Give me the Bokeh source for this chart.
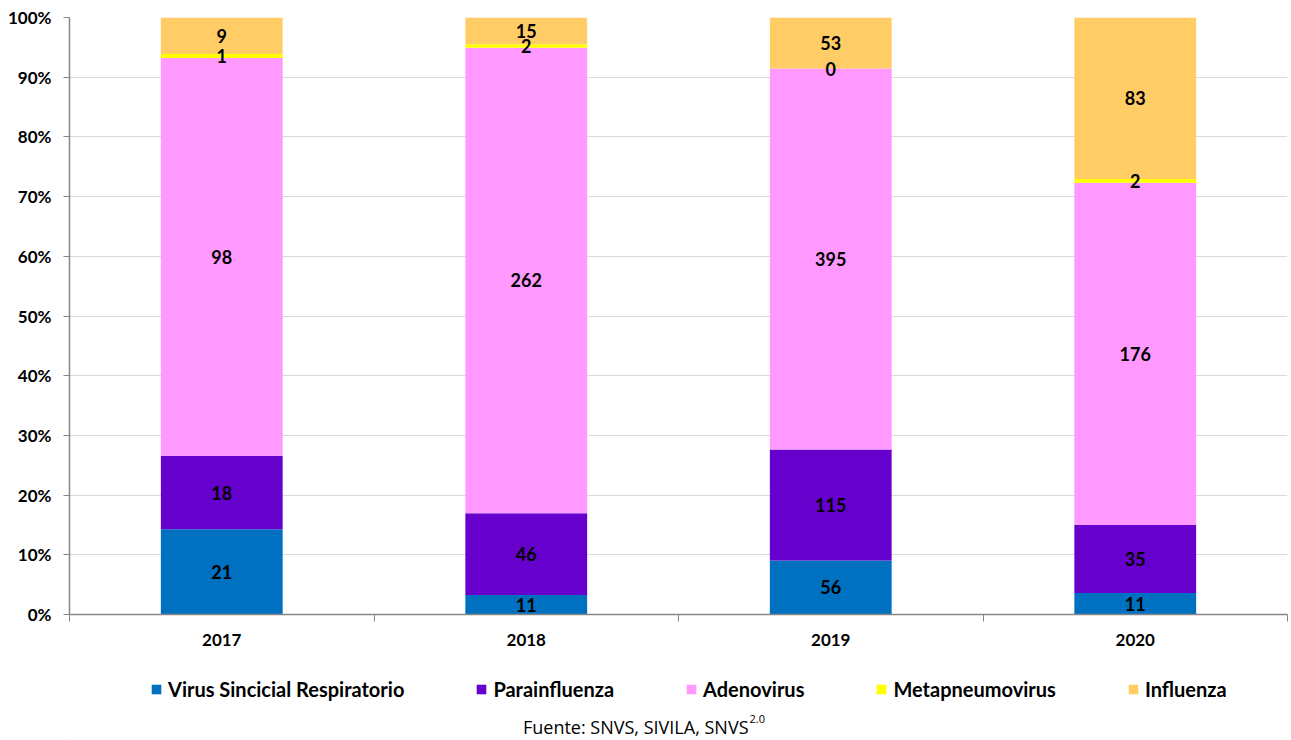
from bokeh.plotting import figure
from bokeh.layouts import column
from bokeh.models import (ColumnDataSource, LabelSet, Label, Legend, LegendItem,
                          FixedTicker, NumeralTickFormatter, Range1d)
from bokeh.core.properties import value
from bokeh.embed import file_html
from bokeh.resources import INLINE

# Casos notificados por año y agente viral
years = ["2017", "2018", "2019", "2020"]
series = ["Virus Sincicial Respiratorio", "Parainfluenza", "Adenovirus",
          "Metapneumovirus", "Influenza"]
vsr = [21, 11, 56, 11]
parainfluenza = [18, 46, 115, 35]
adenovirus = [98, 262, 395, 176]
metapneumovirus = [1, 2, 0, 2]
influenza = [9, 15, 53, 83]
colors = ["#0070C0", "#6600CC", "#FF99FF", "#FFFF00", "#FFCC66"]

FONT = "Lato"
counts = [vsr, parainfluenza, adenovirus, metapneumovirus, influenza]
keys = ["s0", "s1", "s2", "s3", "s4"]
xs = [i + 0.5 for i in range(len(years))]
totals = [sum(c[i] for c in counts) for i in range(len(years))]

data = {"x": xs}
for k, c in zip(keys, counts):
    data[k] = [v / t for v, t in zip(c, totals)]
src = ColumnDataSource(data)

# ---- Gráfico principal: barras apiladas al 100 % ----
p = figure(frame_width=1218, frame_height=597, output_backend="svg",
           toolbar_location=None,
           x_range=Range1d(0, 4), y_range=Range1d(0, 1),
           min_border_left=69, min_border_right=4, min_border_top=17,
           min_border_bottom=50, outline_line_color=None)

p.vbar_stack(keys, x="x", width=0.4, source=src, color=colors, line_color=None)

# Etiquetas de valor centradas en cada segmento
lx, ly, lt = [], [], []
for i in range(len(years)):
    base = 0.0
    for c in counts:
        frac = c[i] / totals[i]
        lx.append(xs[i])
        ly.append(base + frac / 2)
        lt.append(str(c[i]))
        base += frac
lab_src = ColumnDataSource(dict(x=lx, y=ly, t=lt))
p.add_layout(LabelSet(x="x", y="y", text="t", source=lab_src,
                      text_align="center", text_baseline="middle",
                      text_font=value(FONT), text_font_style="bold",
                      text_font_size="18px", text_color="black"))

# Eje X: años al centro, marcas entre categorías
p.xaxis.ticker = FixedTicker(ticks=xs, minor_ticks=[0, 1, 2, 3, 4])
p.xaxis.major_label_overrides = {x: y for x, y in zip(xs, years)}
p.xaxis.major_tick_line_color = None
p.xaxis.minor_tick_in = 0
p.xaxis.minor_tick_out = 7
p.xaxis.minor_tick_line_color = "#868686"
p.xaxis.axis_line_color = "#868686"
p.xaxis.axis_line_width = 1.5
p.xaxis.major_label_standoff = 12
p.xaxis.major_label_text_font = FONT
p.xaxis.major_label_text_font_style = "bold"
p.xaxis.major_label_text_font_size = "17px"
p.xaxis.major_label_text_color = "black"
p.xgrid.grid_line_color = None

# Eje Y en porcentaje
p.yaxis.ticker = FixedTicker(ticks=[i / 10 for i in range(11)])
p.yaxis.formatter = NumeralTickFormatter(format="0%")
p.yaxis.axis_line_color = "#868686"
p.yaxis.axis_line_width = 1.5
p.yaxis.major_tick_line_color = "#868686"
p.yaxis.major_tick_in = 0
p.yaxis.major_tick_out = 6
p.yaxis.minor_tick_line_color = None
p.yaxis.major_label_standoff = 12
p.yaxis.major_label_text_font = FONT
p.yaxis.major_label_text_font_style = "bold"
p.yaxis.major_label_text_font_size = "17px"
p.yaxis.major_label_text_color = "black"
p.ygrid.grid_line_color = "#D9D9D9"
p.ygrid.grid_line_width = 1

# ---- Franja inferior: leyenda y fuente ----
# Su marco queda alineado con el del gráfico superior (69..1287 px),
# por eso el rango X va en píxeles de página.
q = figure(frame_width=1218, frame_height=76, output_backend="svg",
           toolbar_location=None,
           x_range=Range1d(69, 1287), y_range=Range1d(0, 76),
           min_border_left=69, min_border_right=4, min_border_top=0,
           min_border_bottom=0, outline_line_color=None,
           x_axis_location=None, y_axis_location=None)
q.xgrid.visible = False
q.ygrid.visible = False

# Las series se repiten aquí sólo como muestras de la leyenda (quedan fuera del rango visible)
swatches = q.vbar_stack(keys, x="x", width=0.4, source=src, color=colors,
                        line_color=None)
legend = Legend(items=[LegendItem(label=s, renderers=[r]) for s, r in zip(series, swatches)],
                orientation="horizontal", location=(81, 39),
                label_text_font=FONT, label_text_font_style="bold",
                label_text_font_size="20px", label_text_color="black",
                glyph_width=12, glyph_height=12, label_standoff=6,
                spacing=71, border_line_color=None, background_fill_alpha=0,
                padding=0, margin=0)
q.add_layout(legend, "center")

q.add_layout(Label(x=748, y=14, text="Fuente: SNVS, SIVILA, SNVS",
                   text_align="right", text_baseline="alphabetic",
                   text_font="Open Sans", text_font_size="18px",
                   text_color="black"))
q.add_layout(Label(x=749, y=22, text="2.0",
                   text_align="left", text_baseline="alphabetic",
                   text_font="Open Sans", text_font_size="11px",
                   text_color="black"))

open("out.html", "w").write(file_html(column(p, q, spacing=0), INLINE))
